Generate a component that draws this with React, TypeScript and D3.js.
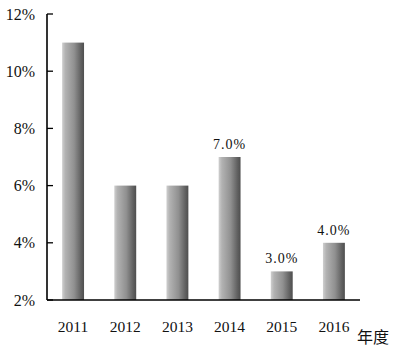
import React from "react";
import * as d3 from "d3";

const years = ["2011", "2012", "2013", "2014", "2015", "2016"];
const values = [11, 6, 6, 7, 3, 4];
const labeled = [false, false, false, true, true, true];
const yTicks = [2, 4, 6, 8, 10, 12];

export default function App() {
  const W = 400, H = 357;
  const x0 = 47, x1 = 360, yTop = 14, yBot = 300;
  const x = d3.scaleBand().domain(years).range([x0, x1]).paddingInner(0.58).paddingOuter(0.29);
  const y = d3.scaleLinear().domain([2, 12]).range([yBot, yTop]);
  const serif = "'Liberation Serif', 'DejaVu Serif', serif";
  return (
    <svg width={W} height={H} style={{ position: "absolute", left: 0, top: 0, background: "#fff" }}>
      <defs>
        <linearGradient id="barGrad" x1="0" x2="1" y1="0" y2="0">
          <stop offset="0%" stopColor="#cfcfcf" />
          <stop offset="15%" stopColor="#b2b2b2" />
          <stop offset="55%" stopColor="#909090" />
          <stop offset="85%" stopColor="#626262" />
          <stop offset="100%" stopColor="#4e4e4e" />
        </linearGradient>
      </defs>
      {years.map((yr, i) => (
        <rect key={yr} x={x(yr)} y={y(values[i])} width={x.bandwidth()} height={yBot - y(values[i])} fill="url(#barGrad)" />
      ))}
      <line x1={x0} x2={x0} y1={yTop} y2={yBot} stroke="#000" strokeWidth={1.6} />
      <line x1={x0} x2={x1} y1={yBot} y2={yBot} stroke="#000" strokeWidth={1.6} />
      {yTicks.map((t) => (
        <g key={t}>
          <line x1={x0} x2={x0 + 6} y1={y(t)} y2={y(t)} stroke="#000" strokeWidth={1.3} />
          <text x={35} y={y(t)} dy="0.35em" textAnchor="end" fontFamily={serif} fontSize={16} fill="#111">{t}%</text>
        </g>
      ))}
      {years.map((yr, i) => (
        <text key={yr} x={(x(yr) as number) + x.bandwidth() / 2} y={332} textAnchor="middle" fontFamily={serif} fontSize={15.5} fill="#111">{yr}</text>
      ))}
      {years.map((yr, i) =>
        labeled[i] ? (
          <text key={"l" + yr} x={(x(yr) as number) + x.bandwidth() / 2} y={y(values[i]) - 8} textAnchor="middle" fontFamily={serif} fontSize={14} letterSpacing={1} fill="#111">{values[i].toFixed(1)}%</text>
        ) : null
      )}
      <text x={357} y={343} fontFamily="'Noto Sans CJK SC', sans-serif" fontSize={16} fill="#111">年度</text>
    </svg>
  );
}
